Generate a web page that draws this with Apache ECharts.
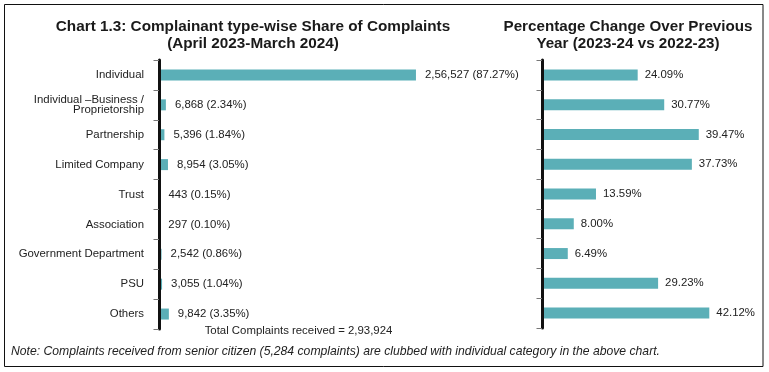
<!DOCTYPE html>
<html>
<head>
<meta charset="utf-8">
<script src="https://cdn.jsdelivr.net/npm/echarts@6/dist/echarts.min.js"></script>
<style>
html,body{margin:0;padding:0;background:#fff;}
#c{width:769px;height:372px;}
</style>
</head>
<body>
<div id="c"></div>
<script>
// ---- data ----
var categories = ['Individual', 'Individual \u2013Business /\nProprietorship', 'Partnership', 'Limited Company', 'Trust', 'Association', 'Government Department', 'PSU', 'Others'];
var complaints = [256527, 6868, 5396, 8954, 443, 297, 2542, 3055, 9842];
var sharePct = [87.27, 2.34, 1.84, 3.05, 0.15, 0.10, 0.86, 1.04, 3.35];
var changePct = [24.09, 30.77, 39.47, 37.73, 13.59, 8.00, 6.49, 29.23, 42.12];
var totalComplaints = 293924;
var seniorCitizen = 5284;

function inFmt(n) {
  var s = String(Math.round(n));
  if (s.length <= 3) return s;
  var last3 = s.slice(-3), rest = s.slice(0, -3);
  rest = rest.replace(/\B(?=(\d{2})+(?!\d))/g, ',');
  return rest + ',' + last3;
}

var FONT = '"Liberation Sans", Arial, sans-serif';
var TXT = '#222';
var BAR = '#5BAFB7';

var chart = echarts.init(document.getElementById('c'), null, {renderer: 'canvas'});
var option = {
  animation: false,
  backgroundColor: '#fff',
  textStyle: {fontFamily: FONT},
  title: [
    {text: 'Chart 1.3: Complainant type-wise Share of Complaints\n(April 2023-March 2024)', left: 248, top: 13, textAlign: 'center',
     textStyle: {fontFamily: FONT, fontSize: 15.3, fontWeight: 'bold', color: '#1a1a1a', lineHeight: 17.5}},
    {text: 'Percentage Change Over Previous\nYear (2023-24 vs 2022-23)', left: 623, top: 13, textAlign: 'center',
     textStyle: {fontFamily: FONT, fontSize: 15.2, fontWeight: 'bold', color: '#1a1a1a', lineHeight: 17.5}}
  ],
  grid: [
    {left: 159, top: 60, width: 300.5, height: 269},
    {left: 542, top: 60, width: 198.6, height: 268}
  ],
  xAxis: [
    {type: 'value', gridIndex: 0, min: 0, max: 300000, show: false},
    {type: 'value', gridIndex: 1, min: 0, max: 50, show: false}
  ],
  yAxis: [
    {type: 'category', gridIndex: 0, data: categories, inverse: true, z: 5,
     axisLine: {lineStyle: {color: '#111', width: 3}},
     axisTick: {show: true, length: 5.5, lineStyle: {color: '#777', width: 1}},
     axisLabel: {margin: 15, fontFamily: FONT, fontSize: 11.4, color: TXT, lineHeight: 10}},
    {type: 'category', gridIndex: 1, data: categories, inverse: true, z: 5,
     axisLine: {lineStyle: {color: '#111', width: 3}},
     axisTick: {show: true, length: 5.5, lineStyle: {color: '#777', width: 1}},
     axisLabel: {show: false}}
  ],
  series: [
    {type: 'bar', xAxisIndex: 0, yAxisIndex: 0, barWidth: 11,
     data: complaints,
     itemStyle: {color: BAR},
     label: {show: true, position: 'right', distance: 9, fontFamily: FONT, fontSize: 11.4, color: TXT,
       formatter: function (p) { return inFmt(complaints[p.dataIndex]) + ' (' + sharePct[p.dataIndex].toFixed(2) + '%)'; }}},
    {type: 'bar', xAxisIndex: 1, yAxisIndex: 1, barWidth: 11,
     data: changePct,
     itemStyle: {color: BAR},
     label: {show: true, position: 'right', distance: 7, fontFamily: FONT, fontSize: 11.4, color: TXT,
       formatter: function (p) { return changePct[p.dataIndex].toFixed(2) + '%'; }}}
  ],
  graphic: [
    {type: 'rect', shape: {x: 4.5, y: 4.5, width: 758.5, height: 362}, style: {fill: 'none', stroke: '#111', lineWidth: 1}, silent: true},
    {type: 'text', x: 298.5, y: 331, style: {text: 'Total Complaints received = ' + inFmt(totalComplaints), font: '11.4px ' + FONT, fill: TXT, align: 'center', verticalAlign: 'middle'}},
    {type: 'text', x: 11, y: 352, style: {text: 'Note: Complaints received from senior citizen (' + inFmt(seniorCitizen) + ' complaints) are clubbed with individual category in the above chart.', font: 'italic 12.2px ' + FONT, fill: TXT, align: 'left', verticalAlign: 'middle'}}
  ]
};
chart.setOption(option);
</script>
</body>
</html>
